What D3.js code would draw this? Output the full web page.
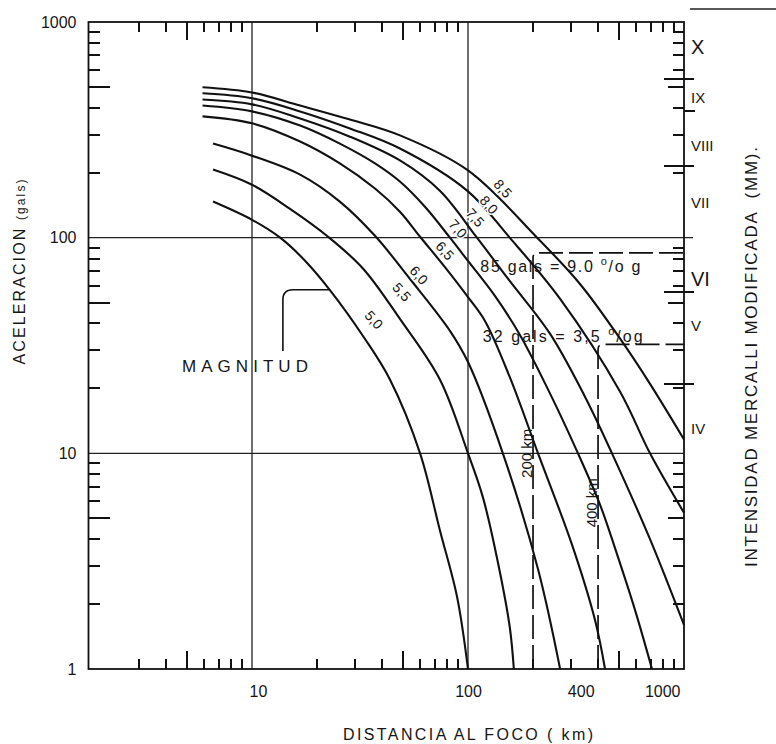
<!DOCTYPE html>
<html>
<head>
<meta charset="utf-8">
<script src="https://cdn.jsdelivr.net/npm/d3@7"></script>
<style>
  body { margin: 0; background: #fff; }
  .chart text { font-family: "Liberation Sans", Arial, sans-serif; fill: #161616; white-space: pre; }
  .tickmark { stroke: #111; stroke-width: 2; shape-rendering: crispEdges; }
  .curve { fill: none; stroke: #111; stroke-width: 2.1; }
  .grid { stroke: #222; stroke-width: 1.3; }
  .frame { fill: none; stroke: #111; stroke-width: 1.8; }
  .dash { fill: none; stroke: #111; stroke-width: 1.7; stroke-dasharray: 24, 6; }
</style>
</head>
<body>
<svg class="chart"></svg>
<script>
var magnitudes = ['5,0', '5,5', '6,0', '6,5', '7,0', '7,5', '8,0', '8,5'];

// [distancia km, aceleracion gals]
var m50 = [[6.6, 147], [10, 121], [13.5, 100], [17.6, 78.2], [23, 57], [33.3, 34],
           [43.5, 22], [60, 10], [74.1, 4.4], [89, 2.16], [100, 1]];
var m55 = [[6.6, 207], [10, 176], [15, 136], [22.5, 101], [32.7, 71.8], [48.4, 42],
           [74.1, 22], [100, 10], [117, 6.3], [136, 3.3], [156, 1.57], [163, 1]];
var m60 = [[6.6, 273], [10, 240], [16.7, 196], [25.5, 147], [37.1, 102], [53.8, 64.5],
           [82.5, 37], [100, 26.5], [145, 10], [211, 2.9], [267, 1]];
var m65 = [[5.9, 365], [10, 339], [16.7, 279], [25.5, 221], [37.1, 169], [48.4, 132],
           [60, 101], [78.2, 73], [100, 53], [120, 41], [156, 22.6], [211, 10],
           [303, 3.77], [387, 1.69], [431, 1]];
var m70 = [[5.9, 410], [10, 385], [16.7, 331], [25.5, 273], [37.1, 221], [48.4, 182],
           [63.2, 139], [82.5, 100], [100, 78], [133, 53.8], [174, 35.4], [234, 19.9],
           [323, 10], [408, 5.8], [490, 3.4], [593, 1.88], [711, 1]];
var m75 = [[5.9, 437], [10, 415], [16.7, 357], [28.4, 294], [48.4, 228], [74.1, 165],
           [110, 100], [156, 63], [240, 35.8], [348, 18.3], [464, 10], [696, 4.0],
           [1000, 1.6]];
var m80 = [[5.9, 467], [10, 443], [16.7, 385], [28.4, 321], [48.4, 259], [100, 164],
           [156, 100], [267, 52], [506, 19.3], [696, 10], [1000, 5.3]];
var m85 = [[5.9, 498], [10, 471], [16.7, 410], [28.4, 353], [48.4, 298], [100, 205],
           [209, 100], [330, 61], [506, 34], [696, 21], [1000, 11.6]];
var curveData = [m50, m55, m60, m65, m70, m75, m80, m85];

// where each magnitude number is written
var labelKm = [36.7, 49.4, 59.3, 78.2, 89.9, 108, 125, 145];
var labelGals = [41.6, 56, 67, 87, 110, 124, 142, 169];

var yLabels = [1, 10, 100, 1000];
var xLabels = [10, 100, 400, 1000];
var xStart = 1.75;

var mmiNames = ['X', 'IX', 'VIII', 'VII', 'VI', 'V', 'IV'];
var mmiNameGals = [763, 446, 267, 145, 64.5, 39, 13.1];
var mmiBoundGals = [547, 214, 56, 21];
var mmiHalfGals = [385];

var refKm = [200, 400];
var refGals = [85, 32];
var refPercent = ['9.0', '3,5'];
var refSuffix = ['/o g', '/og'];
var refKmLabelGals = [10, 5.9];
var refTextKm = [114, 117];
var refTextGals = [69.5, 32.9];

var magnitudAt = [4.74, 23.9];
var magnitudBracket = [[13.9, 29.8], [13.9, 57.3], [23, 57.3]];

var chart = d3.select('.chart').attr('width', 776).attr('height', 744);

var x = d3.scaleLog().domain([10, 1000]).range([252, 684]);
var y = d3.scaleLog().domain([1, 1000]).range([669, 22]);

var plotLeft = x(xStart), plotRight = x(1000);
var plotTop = y(1000), plotBottom = y(1);

// stray rule at the top right of the scan
chart.append('line').attr('class', 'grid')
    .attr('x1', plotRight + 6).attr('x2', 776).attr('y1', 9).attr('y2', 9);

// decade grid
[10, 100].forEach(function(v) {
  chart.append('line').attr('class', 'grid')
      .attr('x1', x(v)).attr('x2', x(v)).attr('y1', plotTop).attr('y2', plotBottom);
  chart.append('line').attr('class', 'grid')
      .attr('x1', plotLeft).attr('x2', plotRight + (v === 100 ? 9 : 0))
      .attr('y1', y(v)).attr('y2', y(v));
});

chart.append('rect').attr('class', 'frame')
    .attr('x', plotLeft).attr('y', plotTop)
    .attr('width', plotRight - plotLeft).attr('height', plotBottom - plotTop);

// minor log ticks, all pointing inwards
var minorY = [], minorX = [];
[1, 10, 100].forEach(function(b) {
  [2, 3, 4, 5, 6, 7, 8, 9].forEach(function(m) {
    minorY.push(b * m);
    if (b * m > xStart * 1.2) minorX.push(b * m);
  });
});
function isFive(v) {
  return Math.abs(v / Math.pow(10, Math.floor(Math.log10(v) + 1e-9)) - 5) < 1e-6;
}

function yTicks(x0, dir, small, big) {
  chart.append('g').selectAll('line')
      .data(minorY)
      .join('line')
      .attr('class', 'tickmark')
      .attr('x1', x0)
      .attr('x2', function(d) { return x0 + dir * (isFive(d) ? big : small); })
      .attr('y1', function(d) { return Math.round(y(d)); })
      .attr('y2', function(d) { return Math.round(y(d)); });
}
function xTicks(y0, dir, small, big) {
  chart.append('g').selectAll('line')
      .data(minorX)
      .join('line')
      .attr('class', 'tickmark')
      .attr('x1', function(d) { return Math.round(x(d)); })
      .attr('x2', function(d) { return Math.round(x(d)); })
      .attr('y1', y0)
      .attr('y2', function(d) { return y0 + dir * (isFive(d) ? big : small); });
}
yTicks(plotLeft, 1, 12, 22);
yTicks(plotRight, -1, 11, 16);
xTicks(plotBottom, -1, 10, 18);
xTicks(plotTop, 1, 10, 18);

// tick labels
chart.append('g')
    .attr('transform', 'translate(' + plotLeft + ',0)')
    .call(d3.axisLeft(y).tickValues(yLabels).tickSize(0).tickPadding(12)
              .tickFormat(d3.format('d')))
    .call(function(g) { g.select('.domain').remove(); })
    .selectAll('text').style('font-size', '16px');

chart.append('g')
    .attr('transform', 'translate(0,' + plotBottom + ')')
    .call(d3.axisBottom(x).tickValues(xLabels).tickSize(0).tickPadding(17)
              .tickFormat(d3.format('d')))
    .call(function(g) { g.select('.domain').remove(); })
    .selectAll('text').style('font-size', '16px')
    .attr('text-anchor', function(d) { return d > 100 ? 'end' : 'middle'; })
    .attr('dx', function(d) { return d > 100 ? -4 : (d === 10 ? 6 : 0); });

// curves
var line = d3.line()
    .x(function(d) { return x(d[0]); })
    .y(function(d) { return y(d[1]); })
    .curve(d3.curveCatmullRom.alpha(0.5));

chart.selectAll('path.curve')
    .data(curveData)
    .join('path')
    .attr('class', 'curve')
    .attr('d', line);

chart.selectAll('text.mag')
    .data(magnitudes)
    .join('text')
    .attr('class', 'mag')
    .attr('transform', function(d, i) {
      return 'translate(' + x(labelKm[i]) + ',' + y(labelGals[i]) + ') rotate(48)';
    })
    .attr('text-anchor', 'middle')
    .attr('dominant-baseline', 'central')
    .attr('font-size', 14)
    .attr('stroke', '#fff').attr('stroke-width', 3).attr('paint-order', 'stroke')
    .text(function(d) { return d; });

// dashed reference boxes: 85 gals at 200 km, 32 gals at 400 km
refKm.forEach(function(km, i) {
  var px = x(km), py = y(refGals[i]), r = 5;
  chart.append('path').attr('class', 'dash')
      .attr('d', 'M' + px + ',' + plotBottom + 'L' + px + ',' + (py + r) +
                 'Q' + px + ',' + py + ' ' + (px + r) + ',' + py +
                 'L' + plotRight + ',' + py);

  chart.append('text')
      .attr('transform', 'translate(' + (px - 1) + ',' + y(refKmLabelGals[i]) + ') rotate(-90)')
      .attr('text-anchor', 'middle')
      .attr('font-size', 15)
      .text(km + ' km');

  var t = chart.append('text')
      .attr('x', x(refTextKm[i])).attr('y', y(refTextGals[i]))
      .attr('font-size', 16)
      .attr('textLength', 160).attr('lengthAdjust', 'spacing');
  t.append('tspan').text(refGals[i] + ' gals = ' + refPercent[i] + ' ');
  t.append('tspan').attr('dy', -7).attr('font-size', 11).text('o');
  t.append('tspan').attr('dy', 7).text(refSuffix[i]);
});

// MAGNITUD call-out
var bx = x(magnitudBracket[0][0]), by0 = y(magnitudBracket[0][1]);
var byt = y(magnitudBracket[1][1]), bx1 = x(magnitudBracket[2][0]);
chart.append('path')
    .attr('fill', 'none').attr('stroke', '#111').attr('stroke-width', 1.6)
    .attr('d', 'M' + bx + ',' + by0 + 'L' + bx + ',' + (byt + 10) +
               'Q' + bx + ',' + byt + ' ' + (bx + 10) + ',' + byt + 'L' + bx1 + ',' + byt);
chart.append('text')
    .attr('x', x(magnitudAt[0])).attr('y', y(magnitudAt[1]))
    .attr('font-size', 17)
    .attr('textLength', 126).attr('lengthAdjust', 'spacing')
    .text('MAGNITUD');

// Mercalli scale on the right
mmiBoundGals.forEach(function(g) {
  chart.append('line').attr('class', 'tickmark')
      .attr('x1', plotRight - 20).attr('x2', plotRight + 10)
      .attr('y1', Math.round(y(g))).attr('y2', Math.round(y(g)));
});
mmiHalfGals.forEach(function(g) {
  chart.append('line').attr('class', 'tickmark')
      .attr('x1', plotRight).attr('x2', plotRight + 11)
      .attr('y1', Math.round(y(g))).attr('y2', Math.round(y(g)));
});
chart.selectAll('text.mmi')
    .data(mmiNames)
    .join('text')
    .attr('class', 'mmi')
    .attr('x', plotRight + 7)
    .attr('y', function(d, i) { return y(mmiNameGals[i]); })
    .attr('dominant-baseline', 'central')
    .attr('font-size', function(d) { return (d === 'X' || d === 'VI') ? 20 : 15; })
    .text(function(d) { return d; });

// axis titles
var yTitle = chart.append('text')
    .attr('transform', 'translate(25,272) rotate(-90)')
    .attr('text-anchor', 'middle')
    .attr('font-size', 16)
    .attr('textLength', 185).attr('lengthAdjust', 'spacing');
yTitle.append('tspan').text('ACELERACION ');
yTitle.append('tspan').attr('font-size', 12).text('(gals)');

chart.append('text')
    .attr('x', 468).attr('y', 740)
    .attr('text-anchor', 'middle')
    .attr('font-size', 16)
    .attr('textLength', 250).attr('lengthAdjust', 'spacing')
    .text('DISTANCIA AL FOCO ( km)');

chart.append('text')
    .attr('transform', 'translate(757,357) rotate(-90)')
    .attr('text-anchor', 'middle')
    .attr('font-size', 17)
    .attr('textLength', 420).attr('lengthAdjust', 'spacing')
    .text('INTENSIDAD MERCALLI MODIFICADA  (MM).');
</script>
</body>
</html>
